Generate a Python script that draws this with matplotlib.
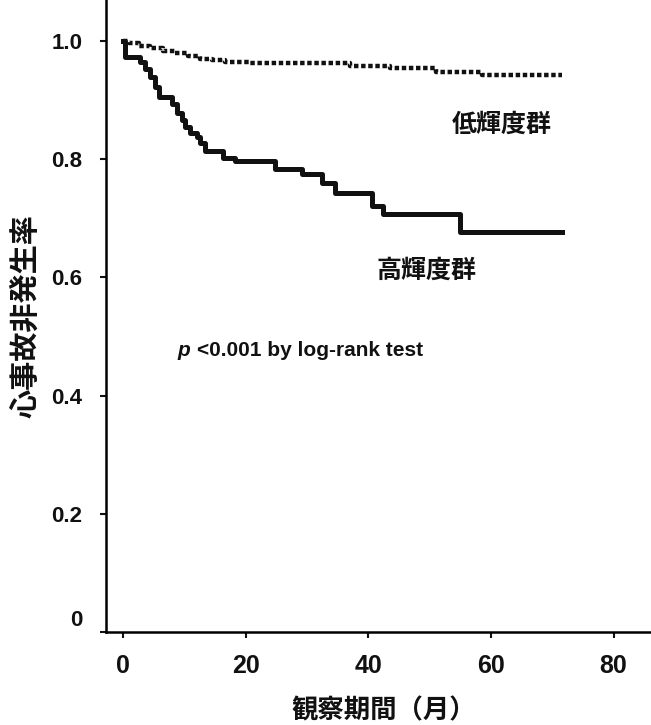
import matplotlib
matplotlib.use('Agg')
from matplotlib import pyplot as plt
from matplotlib.transforms import ScaledTranslation

# Kaplan-Meier style curves (months, survival)
months_high = [0, 0.3, 2.7, 3.6, 4.4, 5.2, 5.8, 7.9, 8.7, 9.5, 10.1, 10.9, 12.0, 12.5, 13.3,
               16.3, 18.3, 24.7, 29.1, 32.4, 34.5, 40.5, 42.4, 54.9, 71.5]
surv_high = [1.0, 0.973, 0.965, 0.952, 0.938, 0.922, 0.905, 0.893, 0.878, 0.866, 0.855, 0.844,
             0.838, 0.827, 0.814, 0.801, 0.796, 0.783, 0.775, 0.759, 0.742, 0.721, 0.707, 0.676, 0.676]

months_low = [0, 1.0, 2.5, 4.4, 6.5, 8.4, 10.5, 12.5, 14.5, 16.6, 20.7, 37.0, 43.5, 51.1, 58.5, 71.5]
surv_low = [1.0, 0.996, 0.992, 0.987, 0.983, 0.979, 0.975, 0.970, 0.967, 0.965, 0.962, 0.957,
            0.9535, 0.948, 0.942, 0.942]

x_ticks = [0, 20, 40, 60, 80]
y_ticks = [0, 0.2, 0.4, 0.6, 0.8, 1.0]
y_tick_labels = ['0', '0.2', '0.4', '0.6', '0.8', '1.0']

num_font = ['Liberation Sans Narrow', 'Liberation Sans', 'DejaVu Sans']
jp_font = ['Noto Sans CJK JP', 'DejaVu Sans']
ink = '#111111'

fig = plt.figure(figsize=(6.51, 7.25), dpi=100)
ax = fig.add_axes([0.163, 0.128, 0.837, 0.872])

ax.step(months_high, surv_high, where='post', color=ink, linewidth=3.6)
ax.step(months_low, surv_low, where='post', color=ink, linewidth=3.2,
        linestyle=(0, (1.0, 0.6)), dash_capstyle='butt')

ax.set_xlim(-2.8, 86.1)
ax.set_ylim(0, 1.069)

ax.spines['top'].set_visible(False)
ax.spines['right'].set_visible(False)
ax.spines['left'].set_linewidth(1.8)
ax.spines['bottom'].set_linewidth(1.8)

ax.set_xticks(x_ticks)
ax.set_xticklabels([str(v) for v in x_ticks], family=num_font, fontweight='bold', fontsize=18)
ax.set_yticks(y_ticks)
ax.set_yticklabels(y_tick_labels, family=num_font, fontweight='bold', fontsize=16)
ax.tick_params(axis='x', length=4, width=1.5, pad=12, colors=ink)
ax.tick_params(axis='y', length=4, width=1.5, pad=13, colors=ink)

# the "0" label sits a little above the corner in the original
zero_lab = ax.get_yticklabels()[0]
zero_lab.set_transform(zero_lab.get_transform() + ScaledTranslation(0, 10 / 72, fig.dpi_scale_trans))

ax.text(61.8, 0.858, '低輝度群', family=jp_font, fontweight='bold', fontsize=18,
        ha='center', va='center', color=ink)
ax.text(49.5, 0.611, '高輝度群', family=jp_font, fontweight='bold', fontsize=18,
        ha='center', va='center', color=ink)
ax.text(8.8, 0.477, 'p', family=num_font, fontweight='bold', style='italic',
        fontsize=15, ha='left', va='center', color=ink)
ax.text(12.0, 0.477, '<0.001 by log-rank test', family=num_font, fontweight='bold',
        fontsize=15, ha='left', va='center', color=ink)

fig.text(0.038, 0.564, '心事故非発生率', family=jp_font, fontweight='bold', fontsize=21,
         rotation=90, ha='center', va='center', color=ink)
fig.text(0.59, 0.019, '観察期間（月）', family=jp_font, fontweight='bold', fontsize=19,
         ha='center', va='center', color=ink)

fig.savefig('out.png', dpi=100)
